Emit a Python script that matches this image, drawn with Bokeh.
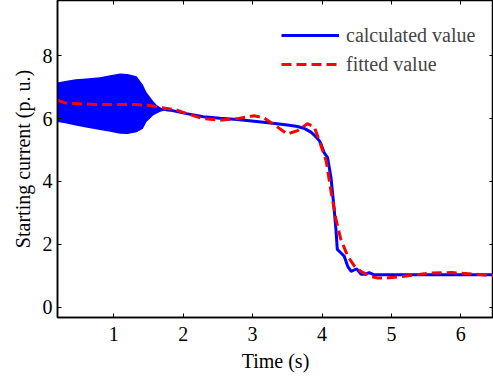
from bokeh.plotting import figure
from bokeh.models import Range1d, LinearAxis, FixedTicker, Legend, LegendItem
from bokeh.embed import file_html
from bokeh.resources import INLINE

# Oscillating start-up band of the calculated value (envelope)
band_t = [0.19, 0.30, 0.45, 0.60, 0.80, 0.95, 1.09, 1.20, 1.33, 1.42, 1.47, 1.52, 1.57, 1.62, 1.67, 1.71, 1.76, 1.80]
band_hi = [7.15, 7.20, 7.25, 7.28, 7.32, 7.38, 7.44, 7.42, 7.35, 7.08, 6.85, 6.70, 6.55, 6.43, 6.36, 6.31, 6.29, 6.27]
band_lo = [5.89, 5.85, 5.78, 5.72, 5.64, 5.58, 5.52, 5.51, 5.57, 5.68, 5.89, 6.00, 6.11, 6.16, 6.22, 6.24, 6.25, 6.27]

# Calculated value after the oscillation settles
calc_t = [1.75, 1.81, 2.05, 2.29, 2.53, 2.78, 3.02, 3.26, 3.50, 3.65, 3.75, 3.84, 3.90, 3.96, 3.98, 4.03, 4.08, 4.13, 4.17, 4.20, 4.22, 4.27, 4.32, 4.37, 4.42, 4.47, 4.50, 4.56, 4.63, 4.68, 4.75, 5.00, 5.50, 6.00, 6.50]
calc_v = [6.28, 6.27, 6.16, 6.06, 6.01, 5.97, 5.92, 5.86, 5.80, 5.75, 5.68, 5.57, 5.45, 5.30, 5.22, 4.92, 4.76, 4.11, 3.24, 2.49, 1.84, 1.73, 1.62, 1.30, 1.14, 1.19, 1.22, 1.05, 1.05, 1.10, 1.03, 1.03, 1.03, 1.03, 1.03]

# Fitted value
fit_t = [0.19, 0.30, 0.50, 0.80, 1.10, 1.30, 1.52, 1.70, 1.91, 2.05, 2.29, 2.53, 2.78, 3.02, 3.16, 3.36, 3.50, 3.65, 3.79, 3.89, 3.96, 4.06, 4.13, 4.20, 4.27, 4.37, 4.47, 4.56, 4.71, 4.80, 4.90, 5.04, 5.24, 5.53, 5.87, 6.20, 6.47]
fit_v = [6.58, 6.50, 6.47, 6.45, 6.45, 6.45, 6.42, 6.35, 6.27, 6.16, 6.00, 5.95, 6.00, 6.09, 6.03, 5.73, 5.51, 5.62, 5.84, 5.73, 5.30, 4.65, 3.68, 2.81, 2.16, 1.62, 1.30, 1.14, 0.97, 0.93, 0.92, 0.95, 1.00, 1.08, 1.10, 1.05, 1.00]

x_ticks = [1, 2, 3, 4, 5, 6]
y_ticks = [0, 2, 4, 6, 8]

FONT = "Liberation Serif"
FS = "20px"

p = figure(width=493, height=377, output_backend="svg", toolbar_location=None,
           x_range=Range1d(0.19, 6.47), y_range=Range1d(-0.33, 9.76),
           min_border_left=57, min_border_right=0, min_border_top=0, min_border_bottom=60,
           background_fill_color="white", border_fill_color="white")
p.grid.visible = False
p.outline_line_color = "black"
p.outline_line_width = 1.5

for ax in (p.xaxis[0], p.yaxis[0]):
    ax.major_tick_in = 4
    ax.major_tick_out = 0
    ax.minor_tick_line_color = None
    ax.axis_line_width = 1.5
    ax.axis_line_color = "black"
    ax.major_tick_line_color = "black"
    ax.major_label_text_font = FONT
    ax.major_label_text_font_size = FS
    ax.major_label_text_color = "black"
    ax.axis_label_text_font = FONT
    ax.axis_label_text_font_size = FS
    ax.axis_label_text_font_style = "normal"
    ax.axis_label_text_color = "black"

p.xaxis[0].ticker = FixedTicker(ticks=x_ticks)
p.yaxis[0].ticker = FixedTicker(ticks=y_ticks)
p.xaxis[0].axis_label = "Time (s)"
p.yaxis[0].axis_label = "Starting current (p. u.)"
p.xaxis[0].major_label_standoff = 9
p.yaxis[0].major_label_standoff = 5
p.xaxis[0].axis_label_standoff = 6
p.yaxis[0].axis_label_standoff = 6

top = LinearAxis(ticker=FixedTicker(ticks=x_ticks),
                 major_label_overrides={t: "" for t in x_ticks},
                 major_tick_in=4, major_tick_out=0, minor_tick_line_color=None,
                 axis_line_color=None, major_label_standoff=0)
right = LinearAxis(ticker=FixedTicker(ticks=y_ticks),
                   major_label_overrides={t: "" for t in y_ticks},
                   major_tick_in=4, major_tick_out=0, minor_tick_line_color=None,
                   axis_line_color=None, major_label_standoff=0)
p.add_layout(top, "above")
p.add_layout(right, "right")

p.varea(x=band_t, y1=band_lo, y2=band_hi, fill_color="#0000FF", fill_alpha=1.0)
r_calc = p.line(calc_t, calc_v, line_color="#0000FF", line_width=3)
r_fit = p.line(fit_t, fit_v, line_color="#FF0000", line_width=3, line_dash="10 5")

legend = Legend(items=[LegendItem(label="calculated value", renderers=[r_calc]),
                       LegendItem(label="fitted value", renderers=[r_fit])],
                location=(224, 241))
legend.border_line_color = None
legend.background_fill_alpha = 0
legend.label_text_font = FONT
legend.label_text_font_size = FS
legend.label_standoff = 7
legend.glyph_width = 58
legend.glyph_height = 24
legend.label_height = 24
legend.spacing = 5
legend.padding = 5
legend.margin = 0
p.add_layout(legend)

open("out.html", "w").write(file_html(p, INLINE))
